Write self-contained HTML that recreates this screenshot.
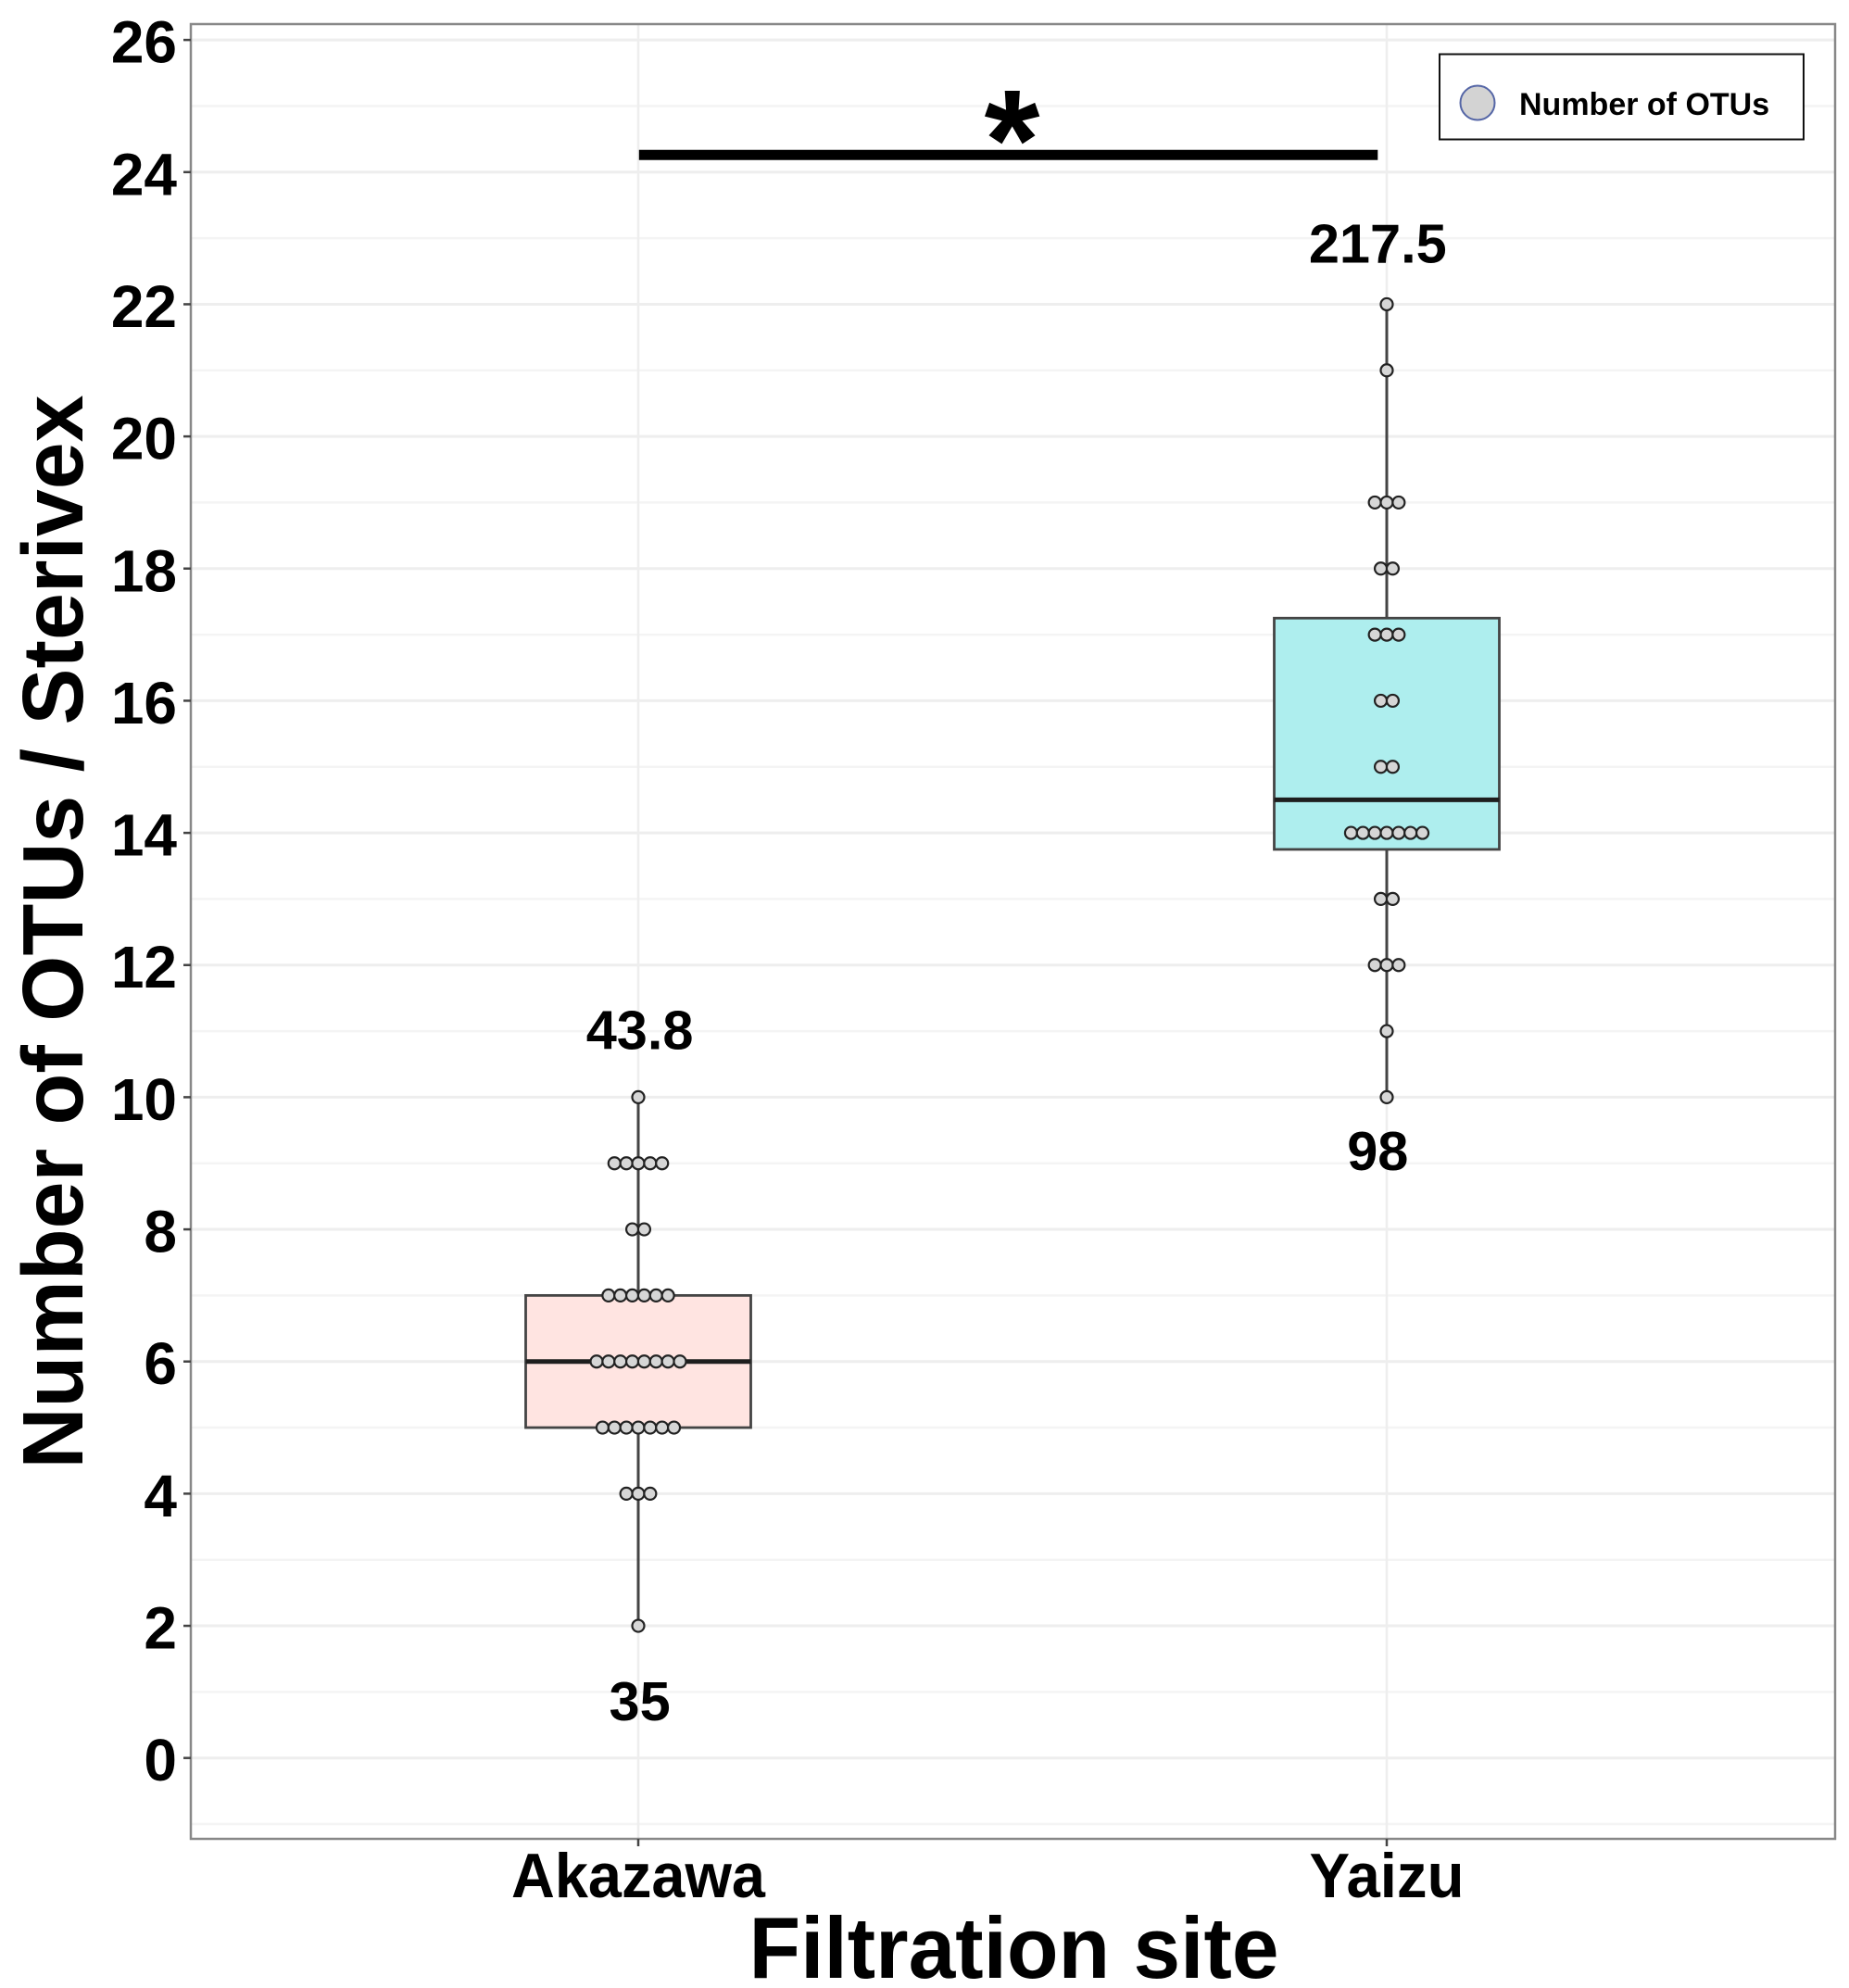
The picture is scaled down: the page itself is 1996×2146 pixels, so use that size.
<!DOCTYPE html>
<html lang="en">
<head>
<meta charset="utf-8">
<title>Number of OTUs per Sterivex by filtration site</title>
<style>
html,body{margin:0;padding:0;background:#fff;}
svg{display:block;}
text{font-family:"Liberation Sans",Arial,sans-serif;font-weight:bold;fill:#000;}
</style>
</head>
<body>
<svg id="chart" xmlns="http://www.w3.org/2000/svg" width="1996" height="2146" viewBox="0 0 1996 2146"></svg>
<script>
const categories = ["Akazawa", "Yaizu"];
const yTickLabels = [0, 2, 4, 6, 8, 10, 12, 14, 16, 18, 20, 22, 24, 26];
const yMinorTicks = [-1, 1, 3, 5, 7, 9, 11, 13, 15, 17, 19, 21, 23, 25];
const q1Values = [5, 13.75];
const medianValues = [6, 14.5];
const q3Values = [7, 17.25];
const whiskerLow = [2, 10];
const whiskerHigh = [10, 22];
const akazawaOtus = [2, 4,4,4, 5,5,5,5,5,5,5, 6,6,6,6,6,6,6,6, 7,7,7,7,7,7, 8,8, 9,9,9,9,9, 10];
const yaizuOtus = [10, 11, 12,12,12, 13,13, 14,14,14,14,14,14,14, 15,15, 16,16, 17,17,17, 18,18, 19,19,19, 21, 22];
const topLabels = ["43.8", "217.5"];
const bottomLabels = ["35", "98"];
const topLabelLevels = [10.73, 22.63];
const bottomLabelLevels = [0.57, 8.9];
const labelCategoryPos = [0.002, 0.988];
const significanceLevel = 24.26;
const significanceFrom = 0.001;
const significanceTo = 0.988;

const NS = "http://www.w3.org/2000/svg";
const svg = document.getElementById("chart");
const panel = {left: 206, right: 1981, top: 26, bottom: 1985};
function yScale(v){ return 1897.7 - 71.33 * v; }
function xScale(i){ return 689 + 808 * i; }
function mk(tag, attrs, parent, txt){
  const el = document.createElementNS(NS, tag);
  for (const k in attrs) el.setAttribute(k, attrs[k]);
  if (txt !== undefined) el.textContent = txt;
  (parent || svg).appendChild(el);
  return el;
}
const boxFills = ["#ffe4e1", "#aeeeee"];
let el;

/* panel background */
el = mk("rect", {x: panel.left, y: panel.top, width: panel.right - panel.left, height: panel.bottom - panel.top, fill: "#fff"});



/* gridlines */
yMinorTicks.forEach(function(v){
  const g = mk("line", {x1: panel.left, x2: panel.right, y1: yScale(v), y2: yScale(v), stroke: "#f4f4f4", "stroke-width": 2.5});
  
  
});
yTickLabels.forEach(function(v){
  const g = mk("line", {x1: panel.left, x2: panel.right, y1: yScale(v), y2: yScale(v), stroke: "#eeeeee", "stroke-width": 3});
  
  
});
categories.forEach(function(c, i){
  const g = mk("line", {x1: xScale(i), x2: xScale(i), y1: panel.top, y2: panel.bottom, stroke: "#eeeeee", "stroke-width": 2.5});
  
  
});

/* boxes and whiskers */
const BOX_HALF = 121.5;
categories.forEach(function(c, i){
  const cx = xScale(i);
  const low = mk("line", {x1: cx, x2: cx, y1: yScale(whiskerLow[i]), y2: yScale(q1Values[i]), stroke: "#444", "stroke-width": 3});
  
  
  const high = mk("line", {x1: cx, x2: cx, y1: yScale(whiskerHigh[i]), y2: yScale(q3Values[i]), stroke: "#444", "stroke-width": 3});
  
  
  const box = mk("rect", {x: cx - BOX_HALF, y: yScale(q3Values[i]), width: BOX_HALF * 2, height: yScale(q1Values[i]) - yScale(q3Values[i]), fill: boxFills[i], stroke: "#444", "stroke-width": 2.8});
  
  
  const med = mk("line", {x1: cx - BOX_HALF, x2: cx + BOX_HALF, y1: yScale(medianValues[i]), y2: yScale(medianValues[i]), stroke: "#1e1e1e", "stroke-width": 5});
  
  
});

/* dot stacks */
const DOT_STEP = 12.85;
[akazawaOtus, yaizuOtus].forEach(function(series, i){
  const counts = {};
  series.forEach(function(v){ counts[v] = (counts[v] || 0) + 1; });
  Object.keys(counts).forEach(function(key){
    const n = counts[key];
    for (let k = 0; k < n; k++) {
      const dot = mk("circle", {cx: xScale(i) + (k - (n - 1) / 2) * DOT_STEP, cy: yScale(Number(key)), r: 6.5, fill: "#d6d6d6", stroke: "#222", "stroke-width": 2.2});
      
      
    }
  });
});

/* value labels */
categories.forEach(function(c, i){
  const px = xScale(labelCategoryPos[i]);
  const t = mk("text", {x: px, y: yScale(topLabelLevels[i]), "text-anchor": "middle", "font-size": 59.5}, svg, topLabels[i]);
  
  
  const b = mk("text", {x: px, y: yScale(bottomLabelLevels[i]), "text-anchor": "middle", "font-size": 59.5}, svg, bottomLabels[i]);
  
  
});

/* significance */
el = mk("line", {x1: xScale(significanceFrom), x2: xScale(significanceTo), y1: yScale(significanceLevel), y2: yScale(significanceLevel), stroke: "#000", "stroke-width": 11});


el = mk("text", {x: 1092.5, y: 204, "text-anchor": "middle", "font-size": 154}, svg, "*");



/* panel border */
el = mk("rect", {x: panel.left, y: panel.top, width: panel.right - panel.left, height: panel.bottom - panel.top, fill: "none", stroke: "#888", "stroke-width": 2.5});



/* y axis */
yTickLabels.forEach(function(v){
  const tick = mk("line", {x1: 198, x2: panel.left, y1: yScale(v), y2: yScale(v), stroke: "#444", "stroke-width": 2.5});
  
  
  const lab = mk("text", {x: 191, y: yScale(v) + 24.5, "text-anchor": "end", "font-size": 64}, svg, String(v));
  
  
});

/* x axis */
const xLabelWidths = {Akazawa: 274, Yaizu: 167};
categories.forEach(function(c, i){
  const tick = mk("line", {x1: xScale(i), x2: xScale(i), y1: panel.bottom, y2: 1993, stroke: "#444", "stroke-width": 2.5});
  
  
  const lab = mk("text", {x: xScale(i), y: 2048, "text-anchor": "middle", "font-size": 68, textLength: xLabelWidths[c], lengthAdjust: "spacingAndGlyphs"}, svg, c);
  
  
});

/* titles */
el = mk("text", {x: 1094.5, y: 2135, "text-anchor": "middle", "font-size": 94, textLength: 572, lengthAdjust: "spacingAndGlyphs"}, svg, "Filtration site");


el = mk("text", {x: 0, y: 0, transform: "translate(89 1006) rotate(-90)", "text-anchor": "middle", "font-size": 93, textLength: 1159, lengthAdjust: "spacingAndGlyphs"}, svg, "Number of OTUs / Sterivex");



/* legend */
const legend = mk("g", {});


el = mk("rect", {x: 1554, y: 58.5, width: 393, height: 92, fill: "#fff", stroke: "#111", "stroke-width": 2}, legend);


el = mk("circle", {cx: 1595, cy: 111, r: 18.5, fill: "#d3d3d3", stroke: "#5566a6", "stroke-width": 2}, legend);


el = mk("text", {x: 1640, y: 124, "font-size": 34}, legend, "Number of OTUs");


</script>
</body>
</html>
